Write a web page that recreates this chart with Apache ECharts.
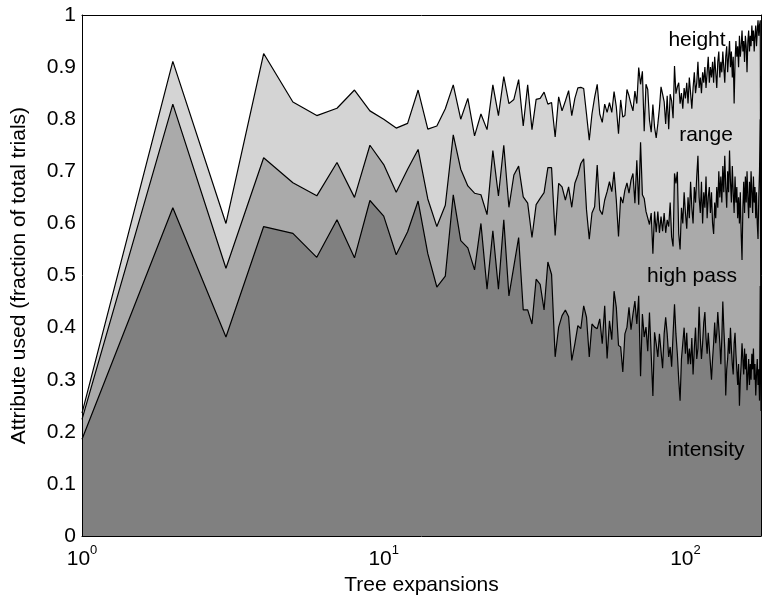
<!DOCTYPE html>
<html><head><meta charset="utf-8">
<script src="https://cdn.jsdelivr.net/npm/echarts@6/dist/echarts.min.js"></script>
<style>html,body{margin:0;padding:0;background:#fff}#c{width:764px;height:601px}</style>
</head><body><div id="c"></div>
<script>
// Cumulative (stacked) boundaries, x = 1,2,3,... tree expansions
const rangeTop = [
0.236,0.911,0.600,0.926,0.833,0.807,0.821,0.856,0.816,0.800,
0.783,0.792,0.856,0.781,0.787,0.820,0.866,0.800,0.840,0.768,
0.810,0.780,0.866,0.807,0.882,0.830,0.838,0.876,0.787,0.866,
0.780,0.838,0.840,0.852,0.829,0.832,0.766,0.843,0.816,0.835,
0.855,0.807,0.840,0.860,0.861,0.859,0.810,0.760,0.810,0.842,
0.867,0.810,0.794,0.829,0.813,0.832,0.813,0.853,0.824,0.772,
0.837,0.804,0.807,0.857,0.845,0.829,0.816,0.854,0.830,0.899,
0.867,0.892,0.777,0.867,0.857,0.798,0.775,0.828,0.785,0.764,
0.791,0.821,0.862,0.848,0.834,0.791,0.845,0.781,0.848,0.835,
0.802,0.902,0.849,0.862,
0.87,0.83,0.85,0.82,0.86,0.84,0.87,0.83,0.88,0.85,
0.82,0.86,0.89,0.85,0.87,0.91,0.86,0.88,0.85,0.89,
0.87,0.90,0.86,0.89,0.92,0.87,0.90,0.88,0.91,0.87,
0.92,0.89,0.86,0.91,0.93,0.88,0.91,0.89,0.93,0.90,
0.87,0.92,0.94,0.89,0.92,0.95,0.90,0.93,0.88,0.92,
0.83,0.91,0.95,0.92,0.94,0.90,0.96,0.92,0.94,0.97,
0.93,0.95,0.91,0.96,0.94,0.89,0.95,0.97,0.93,0.96,
0.94,0.98,0.95,0.97,0.93,0.96,0.98,0.94,0.97,0.99,
0.96,0.98,0.99,0.30];

const highPassTop = [
0.224,0.829,0.514,0.726,0.678,0.653,0.717,0.650,0.750,0.713,
0.660,0.704,0.742,0.647,0.594,0.635,0.770,0.704,0.672,0.658,
0.655,0.617,0.740,0.653,0.750,0.631,0.693,0.710,0.651,0.639,
0.573,0.636,0.648,0.659,0.707,0.707,0.577,0.677,0.670,0.645,
0.670,0.631,0.677,0.693,0.715,0.724,0.626,0.570,0.620,0.632,
0.712,0.626,0.617,0.645,0.661,0.680,0.661,0.699,0.645,0.575,
0.651,0.639,0.664,0.678,0.658,0.683,0.696,0.639,0.721,0.636,
0.756,0.655,0.648,0.623,0.626,0.598,0.620,0.542,0.623,0.583,
0.623,0.582,0.613,0.585,0.620,0.582,0.607,0.594,0.640,0.574,
0.556,0.696,0.677,0.699,
0.58,0.55,0.63,0.60,0.66,0.62,0.59,0.65,0.61,0.68,
0.63,0.60,0.67,0.64,0.69,0.73,0.65,0.62,0.68,0.60,
0.66,0.63,0.69,0.61,0.65,0.67,0.62,0.66,0.60,0.58,
0.64,0.61,0.67,0.63,0.70,0.65,0.69,0.64,0.71,0.66,
0.73,0.67,0.63,0.70,0.66,0.74,0.68,0.64,0.71,0.66,
0.62,0.69,0.64,0.67,0.61,0.65,0.60,0.66,0.58,0.53,
0.63,0.68,0.62,0.69,0.64,0.70,0.65,0.61,0.68,0.63,
0.70,0.66,0.62,0.69,0.64,0.67,0.61,0.66,0.60,0.57,
0.65,0.70,0.80,0.27];

const intensityTop = [
0.186,0.630,0.382,0.594,0.581,0.535,0.607,0.534,0.644,0.614,
0.540,0.584,0.643,0.542,0.478,0.499,0.655,0.567,0.553,0.511,
0.600,0.474,0.586,0.474,0.607,0.461,0.518,0.573,0.434,0.434,
0.407,0.493,0.483,0.434,0.526,0.502,0.344,0.401,0.423,0.434,
0.421,0.337,0.369,0.404,0.398,0.442,0.420,0.344,0.407,0.401,
0.398,0.417,0.369,0.442,0.341,0.413,0.377,0.470,0.439,0.366,
0.363,0.315,0.388,0.401,0.439,0.396,0.426,0.451,0.407,0.461,
0.307,0.426,0.382,0.401,0.355,0.429,0.432,0.269,0.391,0.369,
0.344,0.388,0.391,0.322,0.388,0.420,0.388,0.344,0.363,0.325,
0.388,0.445,0.388,0.350,
0.30,0.26,0.34,0.37,0.40,0.35,0.39,0.33,0.36,0.33,
0.38,0.31,0.36,0.40,0.34,0.36,0.44,0.38,0.34,0.37,
0.41,0.43,0.38,0.35,0.39,0.36,0.33,0.30,0.34,0.37,
0.41,0.37,0.39,0.43,0.40,0.37,0.33,0.38,0.45,0.40,
0.36,0.27,0.32,0.34,0.38,0.35,0.40,0.36,0.33,0.31,
0.37,0.39,0.35,0.32,0.29,0.33,0.25,0.30,0.33,0.37,
0.34,0.31,0.36,0.32,0.35,0.28,0.31,0.34,0.29,0.33,
0.30,0.35,0.32,0.36,0.30,0.33,0.27,0.31,0.34,0.29,
0.32,0.26,0.48,0.24];

const areaNames = ['height', 'range', 'high pass', 'intensity'];
const xTitle = 'Tree expansions';
const yTitle = 'Attribute used (fraction of total trials)';

const FONT = '"Liberation Sans", Arial, Helvetica, sans-serif';
const FS = 21;
function pairs(a){ return a.map((v,i)=>[i+1, v]); }
const xMax = rangeTop.length;

const chart = echarts.init(document.getElementById('c'), null, {renderer:'canvas'});
const axisLineStyle = {color:'#000', width:1};
function areaSeries(name, data, color, z){
  return {
    name, type:'line', data: pairs(data), symbol:'none', z,
    lineStyle:{color:'#000', width:1.2},
    areaStyle:{color, opacity:1, origin:'start'},
    emphasis:{disabled:true}, silent:true
  };
}
function label(text, x, y){
  return {type:'text', x, y, z:100, style:{text, font:FS+'px '+FONT, fill:'#000',
    align:'center', verticalAlign:'middle', textAlign:'center', textVerticalAlign:'middle'}};
}
chart.setOption({
  animation:false,
  backgroundColor:'#fff',
  grid:{left:82, right:3, top:15, bottom:60},
  xAxis:[{
    type:'log', logBase:10, min:1, max:xMax, z:10,
    name:xTitle, nameLocation:'middle', nameGap:37,
    nameTextStyle:{fontFamily:FONT, fontSize:FS, color:'#000'},
    axisLine:{show:true, onZero:false, lineStyle:axisLineStyle},
    axisTick:{show:false}, splitLine:{show:false}, minorTick:{show:false},
    axisLabel:{
      margin:8, showMaxLabel:false,
      formatter:function(v){
        const e = Math.round(Math.log10(v));
        if (Math.abs(Math.pow(10,e)-v) > 1e-6) return '';
        return '{b|10}{s|' + e + '}';
      },
      rich:{
        b:{fontFamily:FONT, fontSize:FS, color:'#000', verticalAlign:'bottom', lineHeight:26},
        s:{fontFamily:FONT, fontSize:13, color:'#000', verticalAlign:'top', lineHeight:14}
      }
    }
  },{
    type:'log', logBase:10, min:1, max:xMax, position:'top', z:10,
    axisLine:{show:true, onZero:false, lineStyle:axisLineStyle},
    axisTick:{show:false}, splitLine:{show:false}, axisLabel:{show:false}
  }],
  yAxis:[{
    type:'value', min:0, max:1, interval:0.1, z:10,
    name:yTitle, nameLocation:'middle', nameGap:52,
    nameTextStyle:{fontFamily:FONT, fontSize:FS, color:'#000'},
    axisLine:{show:true, onZero:false, lineStyle:axisLineStyle},
    axisTick:{show:false}, splitLine:{show:false},
    axisLabel:{margin:6, fontFamily:FONT, fontSize:FS, color:'#000',
      formatter:function(v){ return (v===0||v===1) ? String(v) : v.toFixed(1); }}
  },{
    type:'value', min:0, max:1, interval:0.1, position:'right', z:10,
    axisLine:{show:true, onZero:false, lineStyle:axisLineStyle},
    axisTick:{show:false}, splitLine:{show:false}, axisLabel:{show:false}
  }],
  series:[
    areaSeries(areaNames[1], rangeTop, '#d4d4d4', 2),
    areaSeries(areaNames[2], highPassTop, '#aaaaaa', 3),
    areaSeries(areaNames[3], intensityTop, '#808080', 4)
  ],
  graphic:[
    label(areaNames[0], 697, 40),
    label(areaNames[1], 706, 135),
    label(areaNames[2], 692, 276),
    label(areaNames[3], 706, 450)
  ]
});
</script></body></html>
